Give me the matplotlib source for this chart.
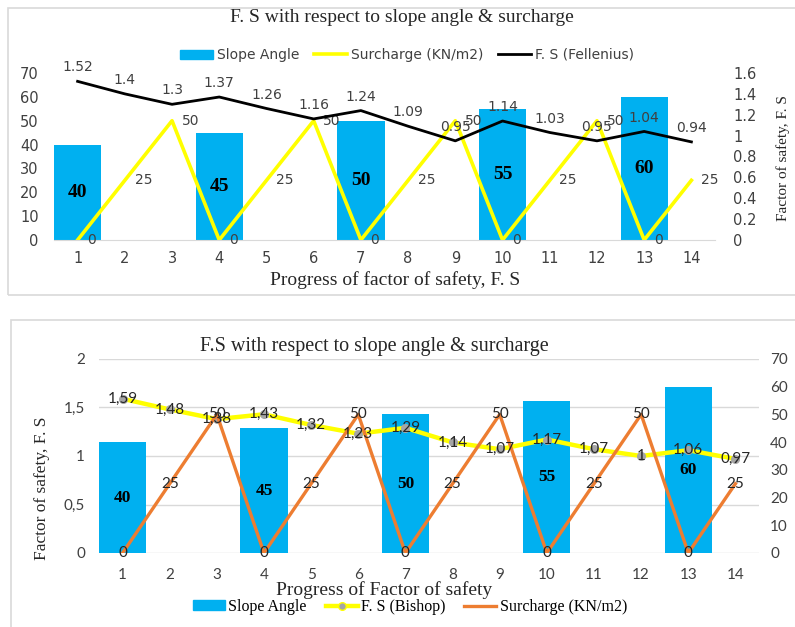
import numpy as np
import matplotlib
matplotlib.use("Agg")
import matplotlib.pyplot as plt
from matplotlib.patches import Rectangle, Patch
from matplotlib.lines import Line2D
from matplotlib.ticker import FuncFormatter

# Dataset
steps = list(range(1, 15))
slope_steps = [1, 4, 7, 10, 13]
slope_angle = [40, 45, 50, 55, 60]
surcharge = [0, 25, 50, 0, 25, 50, 0, 25, 50, 0, 25, 50, 0, 25]
fs_fellenius = [1.52, 1.4, 1.3, 1.37, 1.26, 1.16, 1.24, 1.09, 0.95, 1.14, 1.03, 0.95, 1.04, 0.94]
fs_bishop = [1.59, 1.48, 1.38, 1.43, 1.32, 1.23, 1.29, 1.14, 1.07, 1.17, 1.07, 1, 1.06, 0.97]

W, H = 795, 627
BLUE = "#00B0F0"
YELLOW = "#FFFF00"
ORANGE = "#ED7D31"
GREY = "#D9D9D9"
TXT = "#404040"
SERIF = "Liberation Serif"


def rect(x0, y0, x1, y1):
    # pixel box -> figure fraction
    return [x0 / W, 1 - y1 / H, (x1 - x0) / W, (y1 - y0) / H]


def fx(x):
    return x / W


def fy(y):
    return 1 - y / H


fig = plt.figure(figsize=(W / 100, H / 100), dpi=100)

# outer frames
fig.patches.append(Rectangle((fx(8), fy(295)), 1.0, (295 - 8) / H, transform=fig.transFigure,
                             fill=False, ec=GREY, lw=1.2))
fig.patches.append(Rectangle((fx(11), -0.1), 1.0, fy(320) + 0.1, transform=fig.transFigure,
                             fill=False, ec=GREY, lw=1.2))

# ---------------- top chart (Fellenius) ----------------
ax = fig.add_axes(rect(54, 73, 715, 240))
ax2 = ax.twinx()

ax.bar(slope_steps, slope_angle, width=1.0, color=BLUE, zorder=1)
ax.plot(steps, surcharge, color=YELLOW, lw=2.6, zorder=2)
ax2.plot(steps, fs_fellenius, color="black", lw=2.0, zorder=3)

for x, v in zip(slope_steps, slope_angle):
    ax.text(x, v / 2, str(v), ha="center", va="center", family=SERIF,
            weight="bold", fontsize=14, color="black", zorder=5)
for x, v in zip(steps, surcharge):
    ax.annotate(str(v), (x, v), xytext=(7, 0), textcoords="offset points",
                ha="left", va="center", fontsize=10, color=TXT, zorder=5)
for x, v in zip(steps, fs_fellenius):
    ax2.annotate(f"{v:g}", (x, v), xytext=(0, 5), textcoords="offset points",
                 ha="center", va="bottom", fontsize=10, color=TXT, zorder=5)

ax.set_xlim(0.5, 14.5)
ax.set_ylim(0, 70)
ax2.set_ylim(0, 1.6)
ax.set_xticks(steps)
ax.set_yticks(range(0, 71, 10))
ax2.set_yticks(np.arange(0, 1.61, 0.2))
ax2.yaxis.set_major_formatter(FuncFormatter(lambda v, _: f"{v:g}"))
ax.tick_params(axis="y", length=0, pad=11, labelsize=10.5, colors=TXT)
ax.tick_params(axis="x", length=0, pad=8, labelsize=10.5, colors=TXT)
ax2.tick_params(axis="y", length=0, pad=13, labelsize=10.5, colors=TXT)
for a in (ax, ax2):
    for s in a.spines.values():
        s.set_visible(False)
ax.spines["bottom"].set_visible(True)
ax.spines["bottom"].set_color(GREY)

fig.text(fx(402), fy(18), "F. S with respect to slope angle & surcharge", family=SERIF,
         fontsize=14, ha="center", va="center", color="#262626")
fig.text(fx(395), fy(280), "Progress of factor of safety, F. S", family=SERIF,
         fontsize=14, ha="center", va="center", color="#262626")
fig.text(fx(783), fy(158), "Factor of safety, F. S", family=SERIF, fontsize=11,
         rotation=90, ha="center", va="center", color="#262626")

top_handles = [Patch(color=BLUE), Line2D([], [], color=YELLOW, lw=2.6),
               Line2D([], [], color="black", lw=2.0)]
fig.legend(top_handles, ["Slope Angle", "Surcharge (KN/m2)", "F. S (Fellenius)"],
           loc="center", bbox_to_anchor=(fx(407), fy(55)), ncol=3, frameon=False,
           fontsize=10, handlelength=2.4, handleheight=0.6, columnspacing=1.0,
           handletextpad=0.3, labelcolor=TXT)

# ---------------- bottom chart (Bishop) ----------------
bx = fig.add_axes(rect(99, 359, 759, 553))
bx2 = bx.twinx()

bx.set_axisbelow(True)
bx.grid(axis="y", color=GREY, lw=1.0)
bx2.bar(slope_steps, slope_angle, width=1.0, color=BLUE, zorder=1)
bx2.plot(steps, fs_bishop, color=YELLOW, lw=3.2, marker="o", ms=5.5, mfc="#A5A5A5",
         mec="#A5A5A5", zorder=2, transform=bx.transData)
bx2.plot(steps, surcharge, color=ORANGE, lw=2.4, zorder=3)

for x, v in zip(slope_steps, slope_angle):
    bx2.text(x, v / 2, str(v), ha="center", va="center", family=SERIF,
             weight="bold", fontsize=12.5, color="black", zorder=6)
for x, v in zip(steps, fs_bishop):
    bx2.text(x, v, f"{v:g}".replace(".", ","), ha="center", va="center", family="Lato",
             fontsize=11, color="#262626", zorder=6, transform=bx.transData)
for x, v in zip(steps, surcharge):
    bx2.text(x, v, str(v), ha="center", va="center", family="Lato",
             fontsize=11, color="#262626", zorder=6)

bx.set_xlim(0.5, 14.5)
bx.set_ylim(0, 2)
bx2.set_ylim(0, 70)
bx.set_xticks(steps)
bx.set_yticks([0, 0.5, 1, 1.5, 2])
bx.yaxis.set_major_formatter(FuncFormatter(lambda v, _: f"{v:g}".replace(".", ",")))
bx2.set_yticks(range(0, 71, 10))
for lab in bx.get_xticklabels() + bx.get_yticklabels() + bx2.get_yticklabels():
    lab.set_family("Lato")
bx.tick_params(axis="y", length=0, pad=10, labelsize=11, colors=TXT)
bx.tick_params(axis="x", length=0, pad=11, labelsize=11, colors=TXT)
bx2.tick_params(axis="y", length=0, pad=8, labelsize=11, colors=TXT)
for a in (bx, bx2):
    for s in a.spines.values():
        s.set_visible(False)

fig.text(fx(374), fy(346), "F.S with respect to slope angle & surcharge", family=SERIF,
         fontsize=14.5, ha="center", va="center", color="#262626")
fig.text(fx(384), fy(590), "Progress of Factor of safety", family=SERIF,
         fontsize=14, ha="center", va="center", color="#262626")
fig.text(fx(42), fy(488), "Factor of safety, F. S", family=SERIF, fontsize=12.5,
         rotation=90, ha="center", va="center", color="#262626")

bot_handles = [Patch(color=BLUE),
               Line2D([], [], color=YELLOW, lw=3.2, marker="o", ms=5.5, mfc="#A5A5A5", mec=YELLOW),
               Line2D([], [], color=ORANGE, lw=2.4)]
fig.legend(bot_handles, ["Slope Angle", "F. S (Bishop)", "Surcharge (KN/m2)"],
           loc="center", bbox_to_anchor=(fx(410), fy(607)), ncol=3, frameon=False,
           prop={"family": SERIF, "size": 11.5}, handlelength=2.0, handleheight=0.6,
           columnspacing=1.2, handletextpad=0.2)

fig.savefig("out.png", dpi=100)
